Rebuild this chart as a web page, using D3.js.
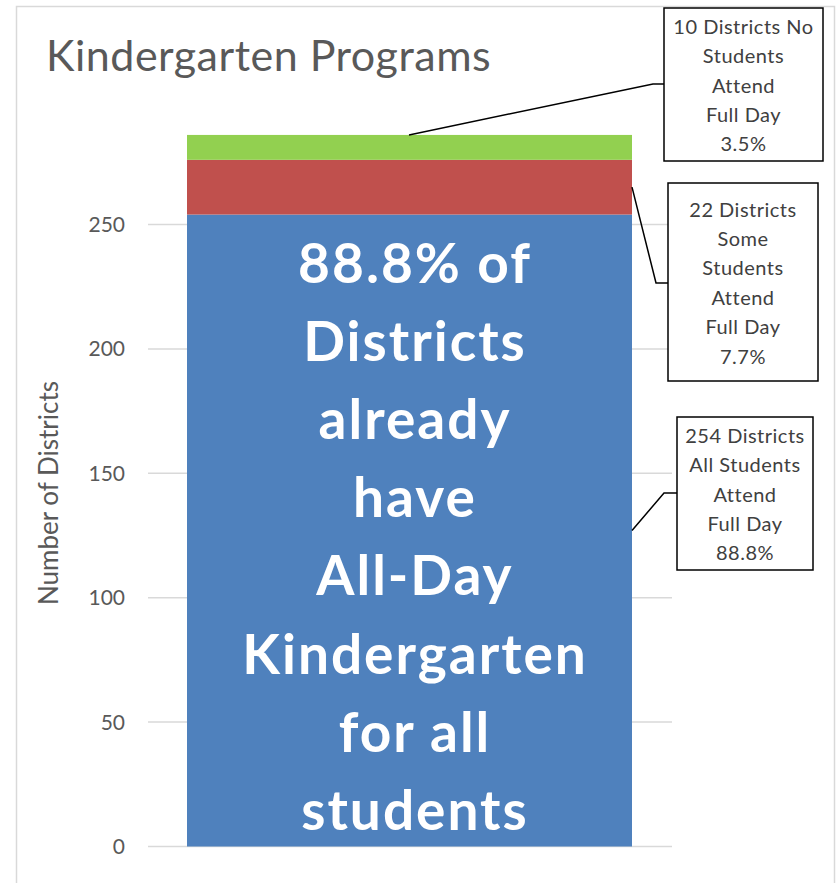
<!DOCTYPE html>
<html>
<head>
<meta charset="utf-8">
<script src="https://cdn.jsdelivr.net/npm/d3@7"></script>
<style>
  body { margin: 0; background: #fff; }
  text { font-family: Lato, "Open Sans", sans-serif; }
</style>
</head>
<body>
<script>
// data
var groups = ["All Students", "Some Students", "No Students"];
var districts = [254, 22, 10];
var colors = ["#4f81bd", "#c0504d", "#92d050"];
var yTicks = [0, 50, 100, 150, 200, 250];
var calloutLines = [
  ["254 Districts", "All Students", "Attend", "Full Day", "88.8%"],
  ["22 Districts", "Some", "Students", "Attend", "Full Day", "7.7%"],
  ["10 Districts No", "Students", "Attend", "Full Day", "3.5%"]
];
var bigText = ["88.8% of", "Districts", "already", "have", "All-Day", "Kindergarten", "for all", "students"];

var W = 839, H = 883;
var svg = d3.select("body").append("svg").attr("width", W).attr("height", H);

// chart frame
svg.append("rect").attr("x", 16.5).attr("y", 6.5).attr("width", 818).attr("height", 900)
   .attr("fill", "#fff").attr("stroke", "#d9d9d9").attr("stroke-width", 1.5);

svg.append("text").attr("x", 46).attr("y", 71)
   .attr("font-size", 43).attr("letter-spacing", 0.5).attr("fill", "#595959")
   .text("Kindergarten Programs");

var y = d3.scaleLinear().domain([0, 250]).range([846.5, 224.5]);
var x0 = 187, x1 = 632;

// gridlines
svg.append("g").selectAll("line").data(yTicks).enter().append("line")
   .attr("x1", 148).attr("x2", 672)
   .attr("y1", function(d) { return y(d); }).attr("y2", function(d) { return y(d); })
   .attr("stroke", "#d9d9d9").attr("stroke-width", 1.5);

svg.append("g").selectAll("text").data(yTicks).enter().append("text")
   .attr("x", 125).attr("y", function(d) { return y(d) + 7.5; })
   .attr("text-anchor", "end").attr("font-size", 21).attr("fill", "#595959")
   .text(function(d) { return d; });

svg.append("text").attr("transform", "translate(58,493) rotate(-90)")
   .attr("text-anchor", "middle").attr("font-size", 26).attr("fill", "#595959")
   .text("Number of Districts");

// stacked bar
var stack = [];
var acc = 0;
for (var i = 0; i < districts.length; i++) {
  stack.push({ lo: acc, hi: acc + districts[i], c: colors[i] });
  acc += districts[i];
}
svg.append("g").selectAll("rect").data(stack).enter().append("rect")
   .attr("x", x0).attr("width", x1 - x0)
   .attr("y", function(d) { return y(d.hi); })
   .attr("height", function(d) { return y(d.lo) - y(d.hi); })
   .attr("fill", function(d) { return d.c; });

// big text in the bar
var bt = svg.append("text").attr("text-anchor", "middle").attr("fill", "#fff")
   .attr("font-weight", "bold").attr("font-size", 55).attr("letter-spacing", 2);
bigText.forEach(function(t, k) {
  bt.append("tspan").attr("x", 415).attr("y", 283 + k * 78.1).text(t);
});

// callouts
var boxes = [
  { x: 677, y: 417, w: 136, h: 153, lx: 664, ly: 493, tx: x1, ty: y(127) },
  { x: 668, y: 183, w: 150, h: 198, lx: 656, ly: 283, tx: x1, ty: y(265) },
  { x: 664, y: 8, w: 159, h: 153, lx: 653, ly: 84, tx: 409, ty: y(acc) }
];
boxes.forEach(function(b, k) {
  svg.append("polyline")
     .attr("points", [[b.x, b.ly], [b.lx, b.ly], [b.tx, b.ty]].join(" "))
     .attr("fill", "none").attr("stroke", "#000").attr("stroke-width", 1.5);
  svg.append("rect").attr("x", b.x).attr("y", b.y).attr("width", b.w).attr("height", b.h)
     .attr("fill", "#fff").attr("stroke", "#000").attr("stroke-width", 1.5);
  var t = svg.append("text").attr("text-anchor", "middle").attr("font-size", 20)
     .attr("letter-spacing", 0.5).attr("fill", "#404040");
  var n = calloutLines[k].length;
  calloutLines[k].forEach(function(s, j) {
    t.append("tspan").attr("x", b.x + b.w / 2)
     .attr("y", b.y + b.h / 2 + 8 + (j - (n - 1) / 2) * 29.4).text(s);
  });
});
</script>
</body>
</html>
